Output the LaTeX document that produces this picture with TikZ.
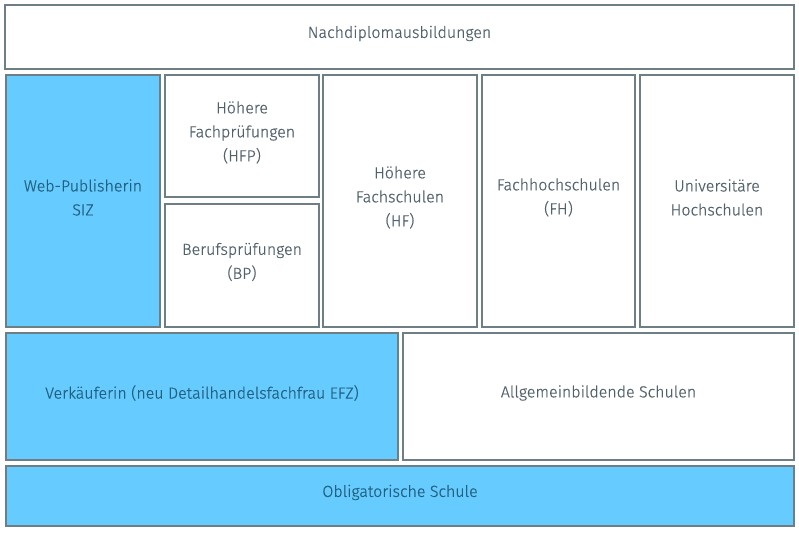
\documentclass[tikz,border=0pt]{standalone}
\usepackage{fontspec}
\setmainfont{Fira Sans Light}[FakeBold=0.6]
\definecolor{boxline}{HTML}{6E7E85}
\definecolor{boxblue}{HTML}{66CCFF}
\definecolor{txt}{HTML}{52626A}
\definecolor{bluetxt}{HTML}{22607F}
\tikzset{
  box/.style={draw=boxline, line width=1.5pt, fill=white, inner sep=0pt},
  bluebox/.style={box, fill=boxblue},
  lbl/.style={inner sep=0pt, align=center, text=txt, font=\fontsize{16}{24}\selectfont},
  bluelbl/.style={lbl, text=bluetxt},
}
\newcommand{\cbox}[7]{% name, style, l, t, r, b, text
  \node[#2, minimum width={#5-#3}, minimum height={#6-#4}] (#1) at ({(#3+#5)/2},{(#4+#6)/2}) {};
  \node[#7] (#1-t) at ([yshift=3.5pt]#1.center)}
\begin{document}
\begin{tikzpicture}[x=1pt,y=-1pt]
\useasboundingbox[fill=white] (0,0) rectangle (799,532);
\cbox{nach}{box}{5}{5}{794}{69}{lbl}{Nachdiplomausbildungen};
\cbox{web}{bluebox}{6}{75}{160}{327}{bluelbl}{Web-Publisherin\\SIZ};
\cbox{hfp}{box}{165}{75}{319}{197}{lbl}{Höhere\\Fachprüfungen\\(HFP)};
\cbox{bp}{box}{165}{204}{319}{327}{lbl}{Berufsprüfungen\\(BP)};
\cbox{hf}{box}{323}{75}{477}{327}{lbl}{Höhere\\Fachschulen\\(HF)};
\cbox{fh}{box}{482}{75}{635}{327}{lbl}{Fachhochschulen\\(FH)};
\cbox{uni}{box}{640}{75}{794}{327}{lbl}{Universitäre\\Hochschulen};
\cbox{verk}{bluebox}{6}{333}{398}{460}{bluelbl}{Verkäuferin (neu Detailhandelsfachfrau EFZ)};
\cbox{allg}{box}{403}{333}{794}{460}{lbl}{Allgemeinbildende Schulen};
\cbox{obl}{bluebox}{6}{466}{794}{526}{bluelbl}{Obligatorische Schule};
\end{tikzpicture}
\end{document}
